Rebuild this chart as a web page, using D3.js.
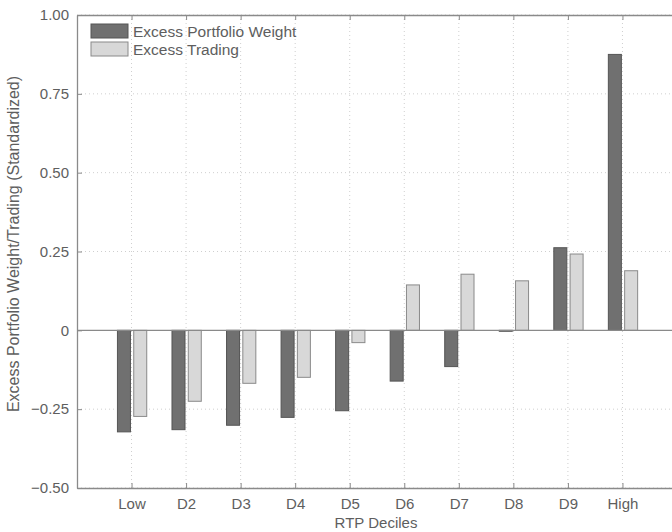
<!DOCTYPE html>
<html><head><meta charset="utf-8">
<script src="https://cdn.jsdelivr.net/npm/d3@7"></script>
<style>body{margin:0;background:#fff}svg{display:block}text{font-family:"Liberation Sans",Arial,sans-serif;fill:#5e5e5e}</style>
</head><body><svg id="c" width="672" height="532"></svg>
<script>
const categories = ["Low","D2","D3","D4","D5","D6","D7","D8","D9","High"];
const portfolioWeight = [-0.322,-0.315,-0.301,-0.276,-0.255,-0.161,-0.115,-0.003,0.262,0.875];
const trading = [-0.273,-0.225,-0.168,-0.149,-0.039,0.144,0.178,0.157,0.242,0.189];
const yTicks = [-0.5,-0.25,0,0.25,0.5,0.75,1.0];
const yTickLabels = ["\u22120.50","\u22120.25","0","0.25","0.50","0.75","1.00"];
const seriesNames = ["Excess Portfolio Weight","Excess Trading"];

const svg = d3.select("#c");
const L=77, T=15, B=488, R=677;
const x = d3.scaleLinear().domain([0,11]).range([L,R]);
const y = d3.scaleLinear().domain([-0.5,1.0]).range([B,T]);
const axisCol="#8a8a8a";

const g = svg.append("g");
// grid
g.selectAll(".vg").data(categories).join("line")
  .attr("x1",(d,i)=>x(i+1)).attr("x2",(d,i)=>x(i+1)).attr("y1",T).attr("y2",B)
  .attr("stroke","#cfcfcf").attr("stroke-width",1).attr("stroke-dasharray","1,3");
g.selectAll(".hg").data(yTicks.filter(v=>v!==0)).join("line")
  .attr("x1",L).attr("x2",R).attr("y1",d=>y(d)).attr("y2",d=>y(d))
  .attr("stroke","#cfcfcf").attr("stroke-width",1).attr("stroke-dasharray","1,3");

// bars
const bw = 13/54.5;
g.selectAll(".b1").data(portfolioWeight).join("rect")
  .attr("x",(d,i)=>x(i+1-bw-0.02)).attr("width",x(bw)-x(0))
  .attr("y",d=>y(Math.max(0,d))).attr("height",d=>Math.abs(y(d)-y(0)))
  .attr("fill","#707070").attr("stroke","#555").attr("stroke-width",1);
g.selectAll(".b2").data(trading).join("rect")
  .attr("x",(d,i)=>x(i+1+0.04)).attr("width",x(bw)-x(0))
  .attr("y",d=>y(Math.max(0,d))).attr("height",d=>Math.abs(y(d)-y(0)))
  .attr("fill","#d8d8d8").attr("stroke","#8a8a8a").attr("stroke-width",1);

// zero line
g.append("line").attr("x1",L).attr("x2",R).attr("y1",y(0)).attr("y2",y(0))
  .attr("stroke",axisCol).attr("stroke-width",1.3);

// axes
const xAxisB = d3.axisBottom(x).tickValues(d3.range(1,11)).tickFormat((d)=>categories[d-1]).tickSizeInner(-5).tickSizeOuter(0).tickPadding(10);
const gx = svg.append("g").attr("transform",`translate(0,${B})`).call(xAxisB);
const xAxisT = d3.axisTop(x).tickValues(d3.range(1,11)).tickFormat("").tickSizeInner(-5).tickSizeOuter(0);
const gxt = svg.append("g").attr("transform",`translate(0,${T})`).call(xAxisT);
const yAxis = d3.axisLeft(y).tickValues(yTicks).tickFormat((d,i)=>yTickLabels[i]).tickSizeInner(-5).tickSizeOuter(0).tickPadding(8);
const gy = svg.append("g").attr("transform",`translate(${L},0)`).call(yAxis);
[gx,gxt,gy].forEach(a=>{
  a.select(".domain").attr("stroke",axisCol).attr("stroke-width",1.3);
  a.selectAll(".tick line").attr("stroke",axisCol);
  a.selectAll(".tick text").attr("font-size",15).attr("fill","#5e5e5e").style("font-family","Liberation Sans, Arial, sans-serif");
});

// titles
svg.append("text").attr("x",376).attr("y",528).attr("text-anchor","middle").attr("font-size",15).text("RTP Deciles");
svg.append("text").attr("transform",`translate(19,244) rotate(-90)`).attr("text-anchor","middle").attr("font-size",16)
  .text("Excess Portfolio Weight/Trading (Standardized)");

// legend
const lg = svg.append("g");
const lfill=["#707070","#d8d8d8"], lstroke=["#555","#8a8a8a"];
seriesNames.forEach((n,i)=>{
  lg.append("rect").attr("x",91).attr("y",24+i*18).attr("width",37).attr("height",14)
    .attr("fill",lfill[i]).attr("stroke",lstroke[i]);
  lg.append("text").attr("x",133).attr("y",37+i*18).attr("font-size",15.5).text(n);
});
</script></body></html>
